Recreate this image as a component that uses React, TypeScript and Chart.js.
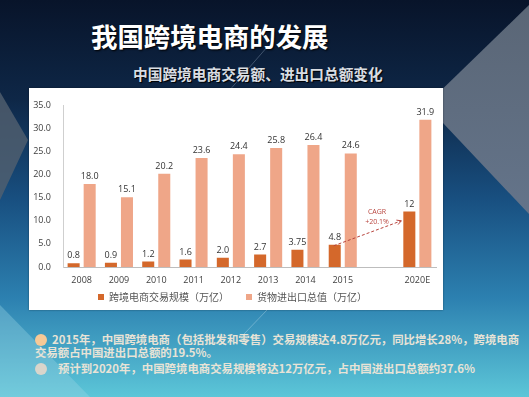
import React, { useEffect, useRef } from "react";
import { Chart, registerables } from "chart.js";

Chart.register(...registerables);

const categories = ["2008", "2009", "2010", "2011", "2012", "2013", "2014", "2015", "", "2020E"];
const ecomValues = [0.8, 0.9, 1.2, 1.6, 2.0, 2.7, 3.75, 4.8, null, 12];
const ecomLabels = ["0.8", "0.9", "1.2", "1.6", "2.0", "2.7", "3.75", "4.8", "", "12"];
const tradeValues = [18.0, 15.1, 20.2, 23.6, 24.4, 25.8, 26.4, 24.6, null, 31.9];
const tradeLabels = ["18.0", "15.1", "20.2", "23.6", "24.4", "25.8", "26.4", "24.6", "", "31.9"];
const yTicks = [0, 5, 10, 15, 20, 25, 30, 35];
const yTickLabels = ["0.0", "5.0", "10.0", "15.0", "20.0", "25.0", "30.0", "35.0"];
const seriesNames = ["跨境电商交易规模（万亿）", "货物进出口总值（万亿）"];
const cagrText = ["CAGR", "+20.1%"];
const cagrFrom = { index: 7, value: 4.6 };
const cagrTo = { index: 9, value: 10 };

const titleText = "我国跨境电商的发展";
const subtitleText = "中国跨境电商交易额、进出口总额变化";
const bullet1Line1 = "2015年，中国跨境电商（包括批发和零售）交易规模达4.8万亿元，同比增长28%，跨境电商";
const bullet1Line2 = "交易额占中国进出口总额的19.5%。";
const bullet2Line = "预计到2020年，中国跨境电商交易规模将达12万亿元，占中国进出口总额约37.6%";

const NUM_FONT = "'Open Sans', 'Liberation Sans', sans-serif";
const CJK_FONT = "'Noto Sans CJK SC', sans-serif";
const LEGEND_GAP = "\u3000\u2002\u2009";

const valueLabelPlugin = {
  id: "valueLabels",
  afterDatasetsDraw(chart: any) {
    const ctx = chart.ctx;
    const lbls = [ecomLabels, tradeLabels];
    ctx.save();
    ctx.font = `9px ${NUM_FONT}`;
    ctx.fillStyle = "#333333";
    ctx.textAlign = "center";
    ctx.textBaseline = "bottom";
    chart.data.datasets.forEach((_: any, di: number) => {
      const meta = chart.getDatasetMeta(di);
      meta.data.forEach((el: any, i: number) => {
        const t = lbls[di][i];
        if (!t) return;
        ctx.fillText(t, el.x, el.y - 3);
      });
    });
    ctx.restore();
  },
};

const cagrPlugin = {
  id: "cagr",
  afterDatasetsDraw(chart: any) {
    const ctx = chart.ctx;
    const xs = chart.scales.x;
    const ys = chart.scales.y;
    const meta = chart.getDatasetMeta(0);
    const a = meta.data[cagrFrom.index];
    const b = meta.data[cagrTo.index];
    const x0 = a.x - 1;
    const y0 = ys.getPixelForValue(cagrFrom.value);
    const x1 = b.x - b.width / 2 - 2;
    const y1 = ys.getPixelForValue(cagrTo.value);
    const color = "#B8453E";
    ctx.save();
    ctx.strokeStyle = color;
    ctx.lineWidth = 1;
    ctx.setLineDash([3, 2]);
    ctx.beginPath();
    ctx.moveTo(x0, y0);
    ctx.lineTo(x1, y1);
    ctx.stroke();
    ctx.setLineDash([]);
    const ang = Math.atan2(y1 - y0, x1 - x0);
    const L = 5;
    ctx.beginPath();
    ctx.moveTo(x1 - L * Math.cos(ang - 0.5), y1 - L * Math.sin(ang - 0.5));
    ctx.lineTo(x1, y1);
    ctx.lineTo(x1 - L * Math.cos(ang + 0.5), y1 - L * Math.sin(ang + 0.5));
    ctx.stroke();
    const cx = xs.getPixelForValue(8) - 3;
    ctx.fillStyle = color;
    ctx.font = `7px ${NUM_FONT}`;
    ctx.textAlign = "center";
    ctx.textBaseline = "middle";
    ctx.fillText(cagrText[0], cx, ys.getPixelForValue(12));
    ctx.fillText(cagrText[1], cx, ys.getPixelForValue(9.7));
    ctx.restore();
  },
};

export default function App() {
  const ref = useRef<HTMLCanvasElement>(null);

  useEffect(() => {
    const canvas = ref.current!;
    const chart = new Chart(canvas, {
      type: "bar",
      data: {
        labels: categories,
        datasets: [
          {
            label: seriesNames[0],
            data: ecomValues as any,
            backgroundColor: "#D4682B",
            categoryPercentage: 0.86,
            barPercentage: 0.75,
          },
          {
            label: seriesNames[1],
            data: tradeValues as any,
            backgroundColor: "#EFA688",
            categoryPercentage: 0.86,
            barPercentage: 0.75,
          },
        ],
      },
      options: {
        responsive: false,
        animation: false,
        layout: { padding: { top: 10, right: 7, left: 0, bottom: -2 } },
        plugins: {
          tooltip: { enabled: false },
          legend: {
            position: "bottom",
            labels: {
              boxWidth: 6,
              boxHeight: 6,
              padding: 5,
              color: "#555555",
              font: { family: CJK_FONT, size: 10 },
              generateLabels: (chart: any) => {
                const items = Chart.defaults.plugins.legend.labels.generateLabels(chart);
                return items.map((it: any, i: number) =>
                  i < items.length - 1 ? { ...it, text: it.text + LEGEND_GAP } : it
                );
              },
            },
          },
        },
        scales: {
          x: {
            grid: { display: false, drawTicks: false },
            border: { color: "#bdbdbd" },
            ticks: {
              color: "#404040",
              font: { family: NUM_FONT, size: 9 },
              padding: 8,
              maxRotation: 0,
              autoSkip: false,
            },
            afterFit: (s: any) => {
              s.height = 20;
            },
          },
          y: {
            min: 0,
            max: 35,
            grid: { display: false, drawTicks: false },
            border: { color: "#cfcfcf" },
            afterBuildTicks: (s: any) => {
              s.ticks = yTicks.map((v) => ({ value: v }));
            },
            ticks: {
              color: "#404040",
              font: { family: NUM_FONT, size: 9 },
              padding: 12,
              callback: (v: any) => yTickLabels[yTicks.indexOf(Number(v))] ?? String(v),
            },
            afterFit: (s: any) => {
              s.width = 34;
            },
          },
        },
      },
      plugins: [valueLabelPlugin, cagrPlugin],
    });
    return () => chart.destroy();
  }, []);

  const bulletText: React.CSSProperties = {
    position: "absolute",
    whiteSpace: "nowrap",
    fontFamily: CJK_FONT,
    fontSize: 11.4,
    fontWeight: 700,
    lineHeight: "13px",
    color: "#e8e3d6",
  };

  return (
    <div
      style={{
        position: "fixed",
        left: 0,
        top: 0,
        width: 529,
        height: 397,
        overflow: "hidden",
        fontFamily: CJK_FONT,
      }}
    >
      <svg width={529} height={397} style={{ position: "absolute", left: 0, top: 0 }}>
        <defs>
          <linearGradient id="bg" x1="0" y1="0" x2="0" y2="1">
            <stop offset="0" stopColor="#08142a" />
            <stop offset="0.25" stopColor="#0e2747" />
            <stop offset="0.5" stopColor="#184f80" />
            <stop offset="0.75" stopColor="#2c80b0" />
            <stop offset="1" stopColor="#5cc6d8" />
          </linearGradient>
          <linearGradient id="tri" x1="0" y1="0" x2="0" y2="1">
            <stop offset="0" stopColor="#5a6676" />
            <stop offset="1" stopColor="#64748a" />
          </linearGradient>
        </defs>
        <rect x={0} y={0} width={529} height={397} fill="url(#bg)" />
        <polygon points="529,5 426,105 529,214" fill="url(#tri)" />
        <polygon points="0,92 28,140 0,200" fill="#52606f" opacity={0.8} />
        <polygon points="0,305 90,397 0,397" fill="#9fd6e4" opacity={0.35} />
        <line x1={268} y1={46} x2={228} y2={92} stroke="rgba(200,220,240,0.35)" strokeWidth={0.8} />
        <line x1={267} y1={310} x2={244} y2={334} stroke="rgba(220,240,250,0.4)" strokeWidth={0.8} />
      </svg>

      <div
        style={{
          position: "absolute",
          left: 91,
          top: 22,
          fontSize: 26.4,
          lineHeight: "28px",
          fontWeight: 700,
          color: "#ffffff",
          whiteSpace: "nowrap",
          textShadow: "1px 1px 2px #000000",
        }}
      >
        {titleText}
      </div>
      <div
        style={{
          position: "absolute",
          left: 133,
          top: 65,
          fontSize: 14.7,
          lineHeight: "17px",
          fontWeight: 700,
          color: "#d9dde2",
          whiteSpace: "nowrap",
          textShadow: "1px 1px 1px #000000",
        }}
      >
        {subtitleText}
      </div>

      <div
        style={{
          position: "absolute",
          left: 29,
          top: 88,
          width: 414,
          height: 222,
          background: "#ffffff",
          boxShadow: "0 0 2px rgba(0,0,0,0.4)",
        }}
      >
        <canvas ref={ref} width={414} height={222} style={{ display: "block" }} />
      </div>

      <div
        style={{
          position: "absolute",
          left: 35,
          top: 334,
          width: 12,
          height: 12,
          borderRadius: 6,
          background: "#f7c996",
        }}
      />
      <div style={{ ...bulletText, left: 52, top: 333 }}>{bullet1Line1}</div>
      <div style={{ ...bulletText, left: 35, top: 346 }}>{bullet1Line2}</div>
      <div
        style={{
          position: "absolute",
          left: 35,
          top: 363,
          width: 12,
          height: 12,
          borderRadius: 6,
          background: "#d9d5cb",
        }}
      />
      <div style={{ ...bulletText, left: 58, top: 362 }}>{bullet2Line}</div>
    </div>
  );
}
